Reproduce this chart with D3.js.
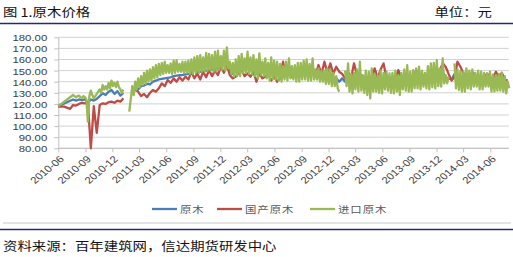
<!DOCTYPE html>
<html><head><meta charset="utf-8">
<script src="https://cdn.jsdelivr.net/npm/d3@7"></script>
<style>body{margin:0;background:#fff}svg{display:block}</style>
</head><body>
<svg id="c" width="513" height="257"></svg>
<script>
// ---- data ----
const startDate = "2010-06-01";   // first observation
const rawStep = 10, domesticStep = 10, importedStep = 5;   // days between observations
const seriesNames = ["原木", "国产原木", "进口原木"];
const seriesColors = ["#4a7ebb", "#be4b48", "#98b954"];
const yTicks = [80, 90, 100, 110, 120, 130, 140, 150, 160, 170, 180];
const xTickLabels = ["2010-06","2010-09","2010-12","2011-03","2011-06","2011-09","2011-12","2012-03","2012-06",
  "2012-09","2012-12","2013-03","2013-06","2013-09","2013-12","2014-03","2014-06"];

// 原木 (every 10 days)
const raw = [
118,null,null,null,null,124,123,124,123.5,124,
121,124,123,124.5,127,129.5,128,131,132.5,129,
131.5,127.5,130,null,null,129,134,133,136,136.5,
138,137.5,140,141,142,142.5,143,143.5,144,145,
145.5,146,146,146.5,147,147,153.5,148,149,149,
150,150.5,151,151,152,158,155,156,149,147,
152,149,154,151,155,151,153,147,153,149,
152,146,151,146,150,145,149,146,151,147,
149,145,150,147,151,146,151,147,148,145,
147,143,147,141,143,140,143,140,148,137,
143,138,148,137,143,134,144,138,141,136,
142,138,142,136,143,136,142,138,146,138,
144,140,146,141,143,139,147,141,148,142,
149,144,143,142,147,139,143,138,144,139,
144,141,144,139,143,140,143,138,142,138,
142,137,139];
// 国产原木 (every 10 days)
const domestic = [
117.5,null,117.5,null,115.5,119,118.5,120,121,120.5,
121,80,118,94,119,120.5,120,121.5,122,121,
123,122,125,null,null,129,133,131,127,129,
126,130,132.5,131,134,138.5,136,141.5,139,143,
140,144,141,144.5,142,149,143,147.5,142,149,
144,150.5,145,150,146,153.5,148,155,146,143,
144.5,148,150.5,145,147.5,144.5,149,140,147.5,143,
144.5,147.5,141,144.5,140,143,158,145,147,144,
149,145,151,146,154,147,152,146,155,147,
158,148,156.5,147,153.5,149,147,143,149,143,
156.5,146,144,142,145,141,144,152,143,151,
156.5,143,142,145,142,150.5,143,142,145,142,
143,150.5,143,146,143,143,144,143,145,150,
156.5,153.5,147,141,144,158,153.5,147.5,143,143,
149,143,143,142,143,147.5,144,142,149,144,
148,142,141];
// 进口原木 (every 5 days)
const imported = [
118,null, null,null, null,null, null,null, null,null,
128,127, 126,127, 127.5,126, 125.5,127, 126,124,
104,127, 132,128, 125,127, 129,131, 133,130,
137,133, 136,133, 139,134, 141,136, 139,135,
140,135, 133,130, 133,null, null,null, 113,124,
136,128, 140,133, 143,135, 145,137, 148,138,
150,140, 151,141, 153,143, 155,144, 156,146,
157,147, 158,148, 155,148, 156.5,147, 159,148,
159.5,149, 156,149, 158,148, 158,148, 159,147,
160,147, 162,148, 163,148, 164,149, 162,149,
166,150, 165,150, 164,149, 167,149, 168,151,
163,151, 168,150, 171,152, 158,147, 157,144.5,
160,145, 163,145, 165,148, 161,148, 167,147,
162,147, 164,145, 160,143, 165.5,146, 158,145,
161,143, 157,141, 162,142, 159,142, 158,141,
156,140, 154,142, 158,141, 161,143, 154,142,
155,140, 157,140, 157,142, 159,142, 160,141,
156,141, 161,142, 151,142, 152,140, 150,140,
150,138, 152,138, 151,136, 148,136, 145,134,
131,null, null,null, 150,136, 156.5,131, 147,129.5,
148,133, 151,131, 158,132, 146,130, 150,128,
149,125, 152,131, 147,131, 146,130, 150,129.5,
148,133, 149,132, 147.5,130, 148,129.5, 150,131,
146,128, 148,133, 151,132, 155,131, 149,131,
150.5,134, 152,134, 153.5,133, 150,135.5, 148,134,
154,133, 156.5,135, 157,134, 159.5,136, 152,135.5,
161,138.5, 146,138.5, 144.5,null, null,null, 156.5,134,
151,132.5, 150,131, 149,131, 152,134, 150,133,
151,135.5, 148,135.5, 150,133, 149,133, 148,135.5,
147,135.5, 149,131, 146.5,131, 146,132, 147,132,
148,131, 145,129.5, 140,134];
// dates where a series' line is interrupted (Spring Festival)
const rawBreaks = ["2011-01-20"];
const domesticBreaks = ["2011-01-20"];
const importedBreaks = ["2011-01-20", "2013-01-16", "2014-01-21"];

// ---- chart ----
const parseDay = d3.utcParse("%Y-%m-%d");
const parseMonth = d3.utcParse("%Y-%m");
const start = parseDay(startDate);

const svg = d3.select("#c");
const pLeft = 58.3, pBottom = 148.3, pTop = 37.3;
const x = d3.scaleUtc().domain([parseDay("2010-06-01"), parseDay("2014-06-01")]).range([58.3, 490.3]);
const y = d3.scaleLinear().domain([80, 180]).range([pBottom, pTop]);
const lastDate = d3.utcDay.offset(start, (raw.length - 1) * rawStep);
const pRight = x(lastDate) + 1;
const SX = 1.2; // horizontal stretch of the original picture's text
const latin = "'Liberation Sans', Arial, sans-serif";
const cjk = "'Noto Sans CJK SC', 'Noto Sans', sans-serif";

// header
svg.append("text").attr("transform", `translate(3,17) scale(${SX},1)`)
  .attr("font-family", cjk).attr("font-size", 12).attr("fill", "#111").text("图 1.原木价格");
svg.append("text").attr("transform", `translate(492,17) scale(${SX},1)`).attr("text-anchor", "end")
  .attr("font-family", cjk).attr("font-size", 12).attr("fill", "#111").text("单位：元");
svg.append("line").attr("x1", 0).attr("x2", 513).attr("y1", 23.5).attr("y2", 23.5)
  .attr("stroke", "#262680").attr("stroke-width", 1.5);

// gridlines
svg.append("g").selectAll("line").data(yTicks).join("line")
  .attr("x1", pLeft).attr("x2", pRight).attr("y1", d => y(d)).attr("y2", d => y(d))
  .attr("stroke", "#d2d2d2").attr("stroke-width", 1);

// y axis
const gy = svg.append("g").attr("transform", `translate(${pLeft},0)`)
  .call(d3.axisLeft(y).tickValues(yTicks).tickFormat(d3.format(".2f")).tickSize(4).tickSizeOuter(0));
gy.select(".domain").attr("stroke", "#bfbfbf");
gy.selectAll(".tick line").attr("stroke", "#bfbfbf");
gy.selectAll(".tick text").attr("x", null).attr("dy", "0.36em")
  .attr("transform", `translate(-11,0) scale(${SX},1)`)
  .attr("font-family", latin).attr("font-size", 9.5).attr("fill", "#404040");

// x axis
const xTickDates = xTickLabels.map(parseMonth);
const gx = svg.append("g").attr("transform", `translate(0,${pBottom})`)
  .call(d3.axisBottom(x).tickValues(xTickDates).tickFormat((d, i) => xTickLabels[i]).tickSize(4).tickSizeOuter(0));
gx.select(".domain").remove();
gx.selectAll(".tick line").attr("stroke", "#bfbfbf");
gx.selectAll(".tick text").attr("y", null).attr("dy", "0.35em").attr("text-anchor", "end")
  .attr("transform", `translate(3,9) scale(${SX},1) rotate(-45)`)
  .attr("font-family", latin).attr("font-size", 9.5).attr("fill", "#404040");
svg.append("line").attr("x1", pLeft).attr("x2", pRight).attr("y1", pBottom).attr("y2", pBottom).attr("stroke", "#bfbfbf");

// series lines
function points(values, step, brks) {
  const b = brks.map(parseDay), out = [];
  let prev = null;
  values.forEach((v, i) => {
    if (v == null) return;
    const d = d3.utcDay.offset(start, i * step);
    if (prev && b.some(t => t > prev && t < d)) out.push(null);
    out.push({ d, v });
    prev = d;
  });
  return out;
}
const line = d3.line().defined(p => p !== null).x(p => x(p.d)).y(p => y(p.v));
const series = [[raw, rawStep, rawBreaks], [domestic, domesticStep, domesticBreaks], [imported, importedStep, importedBreaks]];
svg.append("g").selectAll("path").data(series).join("path")
  .attr("d", s => line(points(s[0], s[1], s[2])))
  .attr("fill", "none").attr("stroke", (s, i) => seriesColors[i])
  .attr("stroke-width", 2.3).attr("stroke-linejoin", "round");

// legend
const legendX = [152, 217, 310];
const lg = svg.append("g").selectAll("g").data(seriesNames).join("g")
  .attr("transform", (d, i) => `translate(${legendX[i]},209)`);
lg.append("line").attr("x1", 0).attr("x2", 25).attr("stroke", (d, i) => seriesColors[i]).attr("stroke-width", 2.3);
lg.append("text").attr("transform", `translate(28,3.5) scale(${SX},1)`)
  .attr("font-family", cjk).attr("font-size", 9.5).attr("letter-spacing", 0.8).attr("fill", "#595959").text(d => d);

// footer
svg.append("line").attr("x1", 3).attr("x2", 511).attr("y1", 223).attr("y2", 223).attr("stroke", "#c8c8c8");
svg.append("line").attr("x1", 0).attr("x2", 513).attr("y1", 229.5).attr("y2", 229.5)
  .attr("stroke", "#262680").attr("stroke-width", 1.5);
svg.append("text").attr("transform", `translate(3,251) scale(${SX},1)`)
  .attr("font-family", cjk).attr("font-size", 12).attr("fill", "#111").text("资料来源：百年建筑网，信达期货研发中心");
</script>
</body></html>
